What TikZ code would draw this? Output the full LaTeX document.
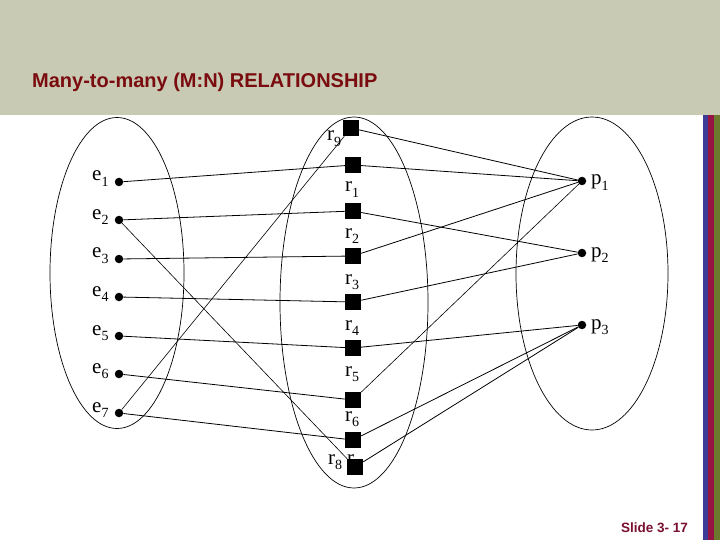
\documentclass[tikz,border=0pt]{standalone}
\usepackage{fontspec}
\setmainfont{Liberation Serif}
\newfontfamily\titlefont{Liberation Sans}
\definecolor{band}{HTML}{C9CAB3}
\definecolor{titlered}{HTML}{7A0C10}
\definecolor{slidered}{HTML}{7A1030}
\definecolor{stripeblue}{HTML}{3C3C98}
\definecolor{stripered}{HTML}{961444}
\definecolor{stripeolive}{HTML}{6C7A2E}
\newcommand\lbl[2]{#1\raisebox{-0.27em}{\fontsize{14}{14}\selectfont #2}}
\tikzset{
  dot/.style={circle,fill=black,inner sep=0pt,minimum size=8.5pt},
  sq/.style={rectangle,fill=black,inner sep=0pt,minimum size=16pt},
  lab/.style={inner sep=0pt,font=\fontsize{21}{21}\selectfont},
  link/.style={draw=black,line width=0.8pt},
  thinlink/.style={draw=black,line width=0.6pt},
  setoval/.style={draw=black,line width=0.7pt}
}
\begin{document}
\begin{tikzpicture}[x=1pt,y=-1pt]
\useasboundingbox (0,0) rectangle (720,540);
\fill[white] (0,0) rectangle (720,540);
% header band
\fill[band] (0,0) rectangle (720,115);
\node[anchor=base west,inner sep=0pt,text=titlered,font=\titlefont\bfseries\fontsize{20}{20}\selectfont] (title) at (32,88) {Many-to-many (M:N) RELATIONSHIP};
% stripes
\fill[stripeblue] (703,115) rectangle (708,540);
\fill[stripered] (708,115) rectangle (714,540);
\fill[stripeolive] (714,115) rectangle (720,540);
\node[anchor=base west,inner sep=0pt,text=slidered,font=\titlefont\bfseries\fontsize{13.5}{13.5}\selectfont] (slide) at (621,532) {Slide 3- 17};
% sets
\draw[setoval] (117,273) ellipse [x radius=67pt, y radius=155.5pt];
\draw[setoval] (354,302.5) ellipse [x radius=74pt, y radius=185.5pt];
\draw[setoval] (592,273.5) ellipse [x radius=76pt, y radius=156.5pt];
% entity dots
\node[dot] (e1) at (119,182) {};
\node[dot] (e2) at (119,220) {};
\node[dot] (e3) at (119,259) {};
\node[dot] (e4) at (119,297) {};
\node[dot] (e5) at (119,336) {};
\node[dot] (e6) at (119,374) {};
\node[dot] (e7) at (119,413) {};
\node[dot] (p1) at (582,181) {};
\node[dot] (p2) at (582,253) {};
\node[dot] (p3) at (582,325) {};
% labels drawn before squares
\node[lab,anchor=base west] (lr9) at (327,141) {\lbl{r}{9}};
\node[lab,anchor=base west] (lr1) at (345,192) {\lbl{r}{1}};
\node[lab,anchor=base west] (lr2) at (345,238) {\lbl{r}{2}};
\node[lab,anchor=base west] (lr3) at (345,284) {\lbl{r}{3}};
\node[lab,anchor=base west] (lr4) at (345,330) {\lbl{r}{4}};
\node[lab,anchor=base west] (lr5) at (345,376) {\lbl{r}{5}};
\node[lab,anchor=base west] (lr6) at (345,421) {\lbl{r}{6}};
\node[lab,anchor=base west] (lr8) at (328,464) {\lbl{r}{8}};
\node[lab,anchor=base west] (lr7) at (347,464) {r};
% relationship squares
\node[sq] (r9) at (351,128) {};
\node[sq] (r1) at (353,165) {};
\node[sq] (r2) at (353,211) {};
\node[sq] (r3) at (353,256) {};
\node[sq] (r4) at (353,302) {};
\node[sq] (r5) at (353,348) {};
\node[sq] (r6) at (353,400) {};
\node[sq] (r7) at (353,440) {};
\node[sq] (r8) at (355,467) {};
% connectors
\draw[link] (e1) -- (r1);
\draw[link] (e2) -- (r2);
\draw[thinlink] (e2) -- (r8);
\draw[link] (e3) -- (r3);
\draw[link] (e4) -- (r4);
\draw[link] (e5) -- (r5);
\draw[link] (e6) -- (r6);
\draw[link] (e7) -- (r7);
\draw[thinlink] (e7) -- (r9);
\draw[link] (r9) -- (p1);
\draw[link] (r1) -- (p1);
\draw[link] (r2) -- (p2);
\draw[link] (r3) -- (p1);
\draw[link] (r4) -- (p2);
\draw[link] (r5) -- (p3);
\draw[thinlink] (r6) -- (p1);
\draw[link] (r7) -- (p3);
\draw[link] (r8) -- (p3);
% entity labels
\node[lab,anchor=base west] (le1) at (92,181) {\lbl{e}{1}};
\node[lab,anchor=base west] (le2) at (92,219) {\lbl{e}{2}};
\node[lab,anchor=base west] (le3) at (92,258) {\lbl{e}{3}};
\node[lab,anchor=base west] (le4) at (92,296) {\lbl{e}{4}};
\node[lab,anchor=base west] (le5) at (92,335) {\lbl{e}{5}};
\node[lab,anchor=base west] (le6) at (92,373) {\lbl{e}{6}};
\node[lab,anchor=base west] (le7) at (92,412) {\lbl{e}{7}};
\node[lab,anchor=base west] (lp1) at (591,185) {\lbl{p}{1}};
\node[lab,anchor=base west] (lp2) at (591,257) {\lbl{p}{2}};
\node[lab,anchor=base west] (lp3) at (591,329) {\lbl{p}{3}};
\end{tikzpicture}
\end{document}
